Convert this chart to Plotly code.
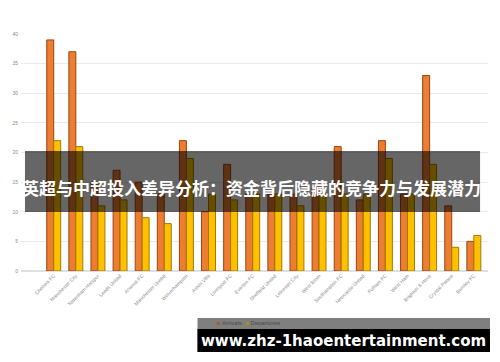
import plotly.graph_objects as go

clubs = ["Chelsea FC", "Manchester City", "Tottenham Hotspur", "Leeds United", "Arsenal FC",
         "Manchester United", "Wolverhampton", "Aston Villa", "Liverpool FC", "Everton FC",
         "Sheffield United", "Leicester City", "West Brom", "Southampton FC", "Newcastle United",
         "Fulham FC", "West Ham", "Brighton & Hove", "Crystal Palace", "Burnley FC"]
arrivals = [39, 37, 15, 17, 15, 13, 22, 10, 18, 13, 13, 13, 14, 21, 12, 22, 13, 33, 11, 5]
departures = [22, 21, 11, 12, 9, 8, 19, 13, 12, 13, 13, 11, 13, 13, 13, 19, 13, 18, 4, 6]
series_names = ["Arrivals", "Departures"]
y_ticks = [0, 5, 10, 15, 20, 25, 30, 35, 40]
title_text = "英超与中超投入差异分析：资金背后隐藏的竞争力与发展潜力"
watermark = "www.zhz-1haoentertainment.com"

W, H = 500, 362
ML, MR, MT, MB = 17, 12, 34, 91
PW, PH = W - ML - MR, H - MT - MB


def px(x):
    return (x - ML) / PW


def py(y):
    return (H - MB - y) / PH


xs = list(range(len(clubs)))
ORANGE, YELLOW = "#ED7D31", "#FFC000"

fig = go.Figure()
fig.add_trace(go.Bar(x=xs, y=arrivals, name=series_names[0], showlegend=False,
                     marker=dict(color=ORANGE, line=dict(color="#9a4511", width=1))))
fig.add_trace(go.Bar(x=xs, y=departures, name=series_names[1], showlegend=False,
                     marker=dict(color=YELLOW, line=dict(color="#a37a00", width=1))))

fig.update_layout(
    width=W, height=H,
    margin=dict(l=ML, r=MR, t=MT, b=MB),
    paper_bgcolor="white", plot_bgcolor="white",
    barmode="group", bargap=0.37, bargroupgap=0,
    font=dict(family="Liberation Sans, Arial, sans-serif", color="#8a8a8a", size=5),
    xaxis=dict(range=[-1.48, 19.64], tickmode="array", tickvals=xs, ticktext=clubs,
               tickangle=-45, tickfont=dict(size=5, color="#8a8a8a"), showgrid=False,
               zeroline=False, showline=False, ticks=""),
    yaxis=dict(range=[0, 40], tickvals=y_ticks, tickfont=dict(size=5, color="#8a8a8a"),
               showgrid=True, gridcolor="#e9e9e9", gridwidth=1, zeroline=True,
               zerolinecolor="#e0e0e0", showline=False, ticks="", ticklabelstandoff=2),
    showlegend=False,
)

# Title overlay band
fig.add_shape(type="rect", xref="paper", yref="paper", layer="above",
              x0=px(21), x1=px(480), y0=py(212), y1=py(151),
              fillcolor="rgba(0,0,0,0.6)", line=dict(width=0))
fig.add_annotation(xref="paper", yref="paper", x=px(249.5), y=py(187), text="<b>" + title_text + "</b>",
                   showarrow=False, xanchor="center", yanchor="middle",
                   font=dict(family="Noto Sans CJK SC", size=17, color="white"))

# Watermark
fig.add_shape(type="rect", xref="paper", yref="paper", layer="above",
              x0=px(195), x1=px(490), y0=py(352), y1=py(318),
              fillcolor="rgba(0,0,0,0.5)", line=dict(width=0))
fig.add_shape(type="rect", xref="paper", yref="paper", layer="above",
              x0=px(195), x1=px(490), y0=py(352), y1=py(329),
              fillcolor="black", line=dict(width=0))
fig.add_annotation(xref="paper", yref="paper", x=px(342), y=py(341), text="<b>" + watermark + "</b>",
                   showarrow=False, xanchor="center", yanchor="middle",
                   font=dict(family="DejaVu Sans", size=15, color="white"))

# Legend (seen through the grey strip)
legend_text = ("<span style='color:#a8582a'>■</span> " + series_names[0] +
               "  <span style='color:#b08c10'>■</span> " + series_names[1])
fig.add_annotation(xref="paper", yref="paper", x=px(246), y=py(322.5), text=legend_text,
                   showarrow=False, xanchor="center", yanchor="middle",
                   font=dict(family="Liberation Sans, Arial, sans-serif", size=6, color="#4a4a4a"))

fig.write_html("out.html")
